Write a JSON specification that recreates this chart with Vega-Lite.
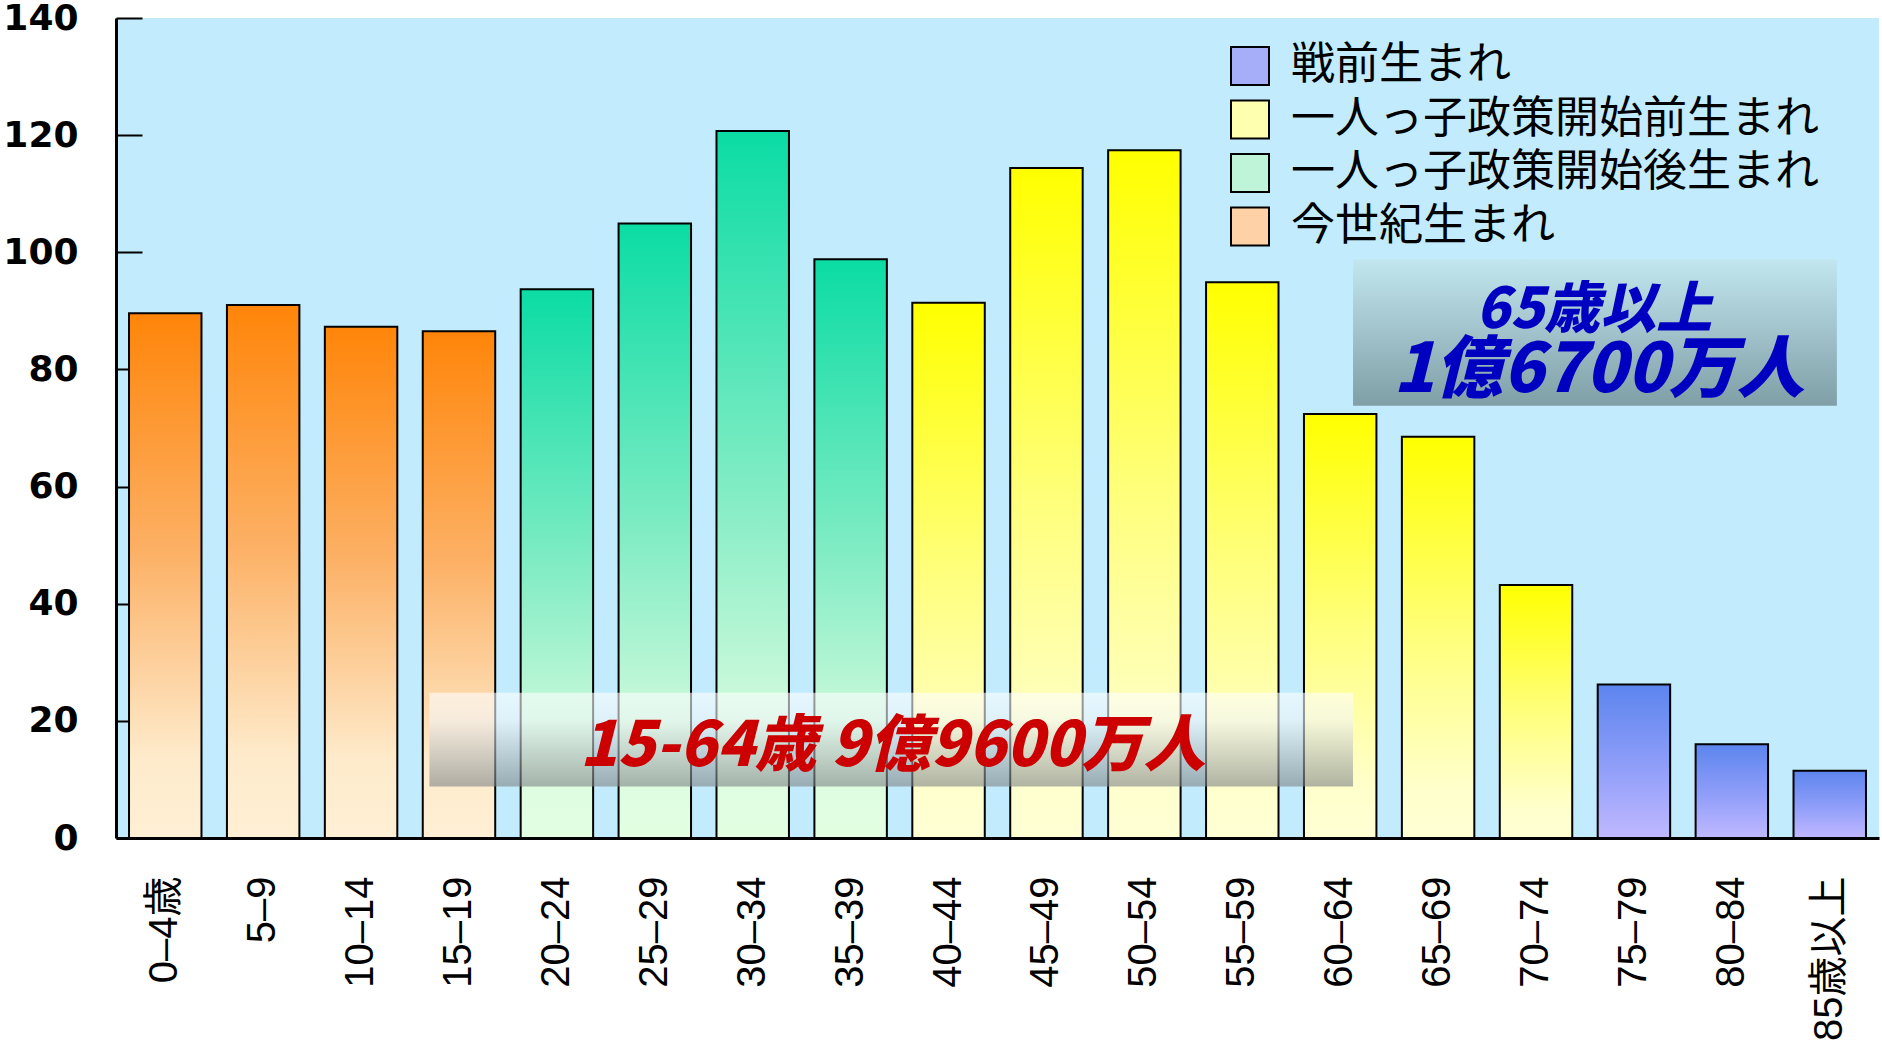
{
  "$schema": "https://vega.github.io/schema/vega-lite/v6.json",
  "width": 1763,
  "height": 820,
  "autosize": {"type": "none"},
  "padding": {"left": 116, "top": 18, "right": 3, "bottom": 219},
  "background": "white",
  "config": {
    "view": {"fill": "#c2ecfd", "stroke": null},
    "axisY": {
      "domainColor": "black", "domainWidth": 3,
      "tickColor": "black", "tickWidth": 2, "tickSize": -26,
      "labelPadding": 64, "labelFont": "DejaVu Sans", "labelFontWeight": "bold",
      "labelFontSize": 36, "labelColor": "black", "grid": false, "tickCount": 7,
      "labelFlush": false, "labelOverlap": false, "labelBaseline": "middle"
    }
  },
  "data": {
    "values": [
      {"age": "0–4歳", "pop": 89.6, "group": "今世紀生まれ"},
      {"age": "5–9", "pop": 91.0, "group": "今世紀生まれ"},
      {"age": "10–14", "pop": 87.3, "group": "今世紀生まれ"},
      {"age": "15–19", "pop": 86.5, "group": "今世紀生まれ"},
      {"age": "20–24", "pop": 93.7, "group": "一人っ子政策開始後生まれ"},
      {"age": "25–29", "pop": 104.9, "group": "一人っ子政策開始後生まれ"},
      {"age": "30–34", "pop": 120.7, "group": "一人っ子政策開始後生まれ"},
      {"age": "35–39", "pop": 98.8, "group": "一人っ子政策開始後生まれ"},
      {"age": "40–44", "pop": 91.4, "group": "一人っ子政策開始前生まれ"},
      {"age": "45–49", "pop": 114.4, "group": "一人っ子政策開始前生まれ"},
      {"age": "50–54", "pop": 117.4, "group": "一人っ子政策開始前生まれ"},
      {"age": "55–59", "pop": 94.9, "group": "一人っ子政策開始前生まれ"},
      {"age": "60–64", "pop": 72.4, "group": "一人っ子政策開始前生まれ"},
      {"age": "65–69", "pop": 68.5, "group": "一人っ子政策開始前生まれ"},
      {"age": "70–74", "pop": 43.2, "group": "一人っ子政策開始前生まれ"},
      {"age": "75–79", "pop": 26.2, "group": "戦前生まれ"},
      {"age": "80–84", "pop": 16.0, "group": "戦前生まれ"},
      {"age": "85歳以上", "pop": 11.5, "group": "戦前生まれ"}
    ]
  },
  "resolve": {"scale": {"x": "independent"}},
  "layer": [
    {
      "encoding": {
        "x": {
          "field": "age", "type": "nominal", "title": null,
          "scale": {
            "domain": ["0–4歳","5–9","10–14","15–19","20–24","25–29","30–34","35–39","40–44","45–49","50–54","55–59","60–64","65–69","70–74","75–79","80–84","85歳以上"],
            "paddingInner": 0.26, "paddingOuter": 0.133
          },
          "axis": {
            "labelAngle": -90, "ticks": false, "labelPadding": 38,
            "domainColor": "black", "domainWidth": 3,
            "labelFont": "Liberation Sans, Noto Sans CJK JP", "labelFontSize": 40,
            "labelColor": "black", "labelOverlap": false, "labelLimit": 400
          }
        },
        "y": {"field": "pop", "type": "quantitative", "title": null, "scale": {"domain": [0, 140], "nice": false}}
      },
      "layer": [
        {
          "transform": [{"filter": "datum.group === '今世紀生まれ'"}],
          "mark": {"type": "bar", "stroke": "black", "strokeWidth": 2,
            "fill": {"gradient": "linear", "x1": 0, "y1": 0, "x2": 0, "y2": 1,
              "stops": [{"offset": 0, "color": "#ff8509"}, {"offset": 0.45, "color": "#fcb064"}, {"offset": 0.85, "color": "#feebcc"}, {"offset": 1, "color": "#ffefd4"}]}}
        },
        {
          "transform": [{"filter": "datum.group === '一人っ子政策開始後生まれ'"}],
          "mark": {"type": "bar", "stroke": "black", "strokeWidth": 2,
            "fill": {"gradient": "linear", "x1": 0, "y1": 0, "x2": 0, "y2": 1,
              "stops": [{"offset": 0, "color": "#0bdca4"}, {"offset": 0.5, "color": "#80ecc4"}, {"offset": 0.88, "color": "#ddfce0"}, {"offset": 1, "color": "#e2ffe2"}]}}
        },
        {
          "transform": [{"filter": "datum.group === '一人っ子政策開始前生まれ'"}],
          "mark": {"type": "bar", "stroke": "black", "strokeWidth": 2,
            "fill": {"gradient": "linear", "x1": 0, "y1": 0, "x2": 0, "y2": 1,
              "stops": [{"offset": 0, "color": "#ffff00"}, {"offset": 0.5, "color": "#ffff7c"}, {"offset": 0.88, "color": "#ffffcc"}, {"offset": 1, "color": "#ffffd4"}]}}
        },
        {
          "transform": [{"filter": "datum.group === '戦前生まれ'"}],
          "mark": {"type": "bar", "stroke": "black", "strokeWidth": 2,
            "fill": {"gradient": "linear", "x1": 0, "y1": 0, "x2": 0, "y2": 1,
              "stops": [{"offset": 0, "color": "#5c85ee"}, {"offset": 0.5, "color": "#8c9cf8"}, {"offset": 1, "color": "#c0b8ff"}]}}
        },
        {
          "mark": {"type": "square", "opacity": 0, "filled": true, "stroke": "black", "strokeWidth": 2},
          "encoding": {
            "color": {
              "field": "group", "type": "nominal",
              "scale": {"domain": ["戦前生まれ", "一人っ子政策開始前生まれ", "一人っ子政策開始後生まれ", "今世紀生まれ"], "range": ["#a6aefa", "#ffffb0", "#bff4d8", "#fed2a6"]},
              "legend": {
                "title": null, "orient": "none", "legendX": 1112, "legendY": 26, "padding": 0,
                "symbolType": "square", "symbolSize": 1444, "symbolStrokeWidth": 2,
                "symbolOpacity": 1, "labelFont": "Noto Sans CJK JP", "labelFontSize": 44, "labelColor": "black",
                "labelOffset": 19, "rowPadding": 7.5, "labelLimit": 1000
              }
            }
          }
        }
      ]
    },
    {
      "data": {"values": [{}]},
      "mark": {"type": "rect", "fillOpacity": 0.6,
        "fill": {"gradient": "linear", "x1": 0, "y1": 0, "x2": 0, "y2": 1,
          "stops": [{"offset": 0, "color": "#ffffff"}, {"offset": 0.3, "color": "#f0f4f6"}, {"offset": 1, "color": "#7c8183"}]}},
      "encoding": {
        "x": {"datum": 3.2, "type": "quantitative", "scale": {"domain": [0, 18], "nice": false, "zero": false}, "axis": null},
        "x2": {"datum": 12.63},
        "y": {"datum": 8.8, "type": "quantitative", "title": null, "scale": {"domain": [0, 140], "nice": false}},
        "y2": {"datum": 24.8}
      }
    },
    {
      "data": {"values": [{}]},
      "mark": {"type": "text", "text": "15-64歳 9億9600万人", "font": "Noto Sans CJK JP", "fontWeight": 900, "fontStyle": "italic", "fontSize": 62, "fill": "#cc0000", "align": "center", "baseline": "middle"},
      "encoding": {
        "x": {"datum": 7.93, "type": "quantitative", "scale": {"domain": [0, 18], "nice": false, "zero": false}, "axis": null},
        "y": {"datum": 15.6, "type": "quantitative", "title": null, "scale": {"domain": [0, 140], "nice": false}}
      }
    },
    {
      "data": {"values": [{}]},
      "mark": {"type": "rect", "fillOpacity": 0.92,
        "fill": {"gradient": "linear", "x1": 0, "y1": 0, "x2": 0, "y2": 1,
          "stops": [{"offset": 0, "color": "#c2e6ee"}, {"offset": 1, "color": "#7a989f"}]}},
      "encoding": {
        "x": {"datum": 12.63, "type": "quantitative", "scale": {"domain": [0, 18], "nice": false, "zero": false}, "axis": null},
        "x2": {"datum": 17.57},
        "y": {"datum": 73.8, "type": "quantitative", "title": null, "scale": {"domain": [0, 140], "nice": false}},
        "y2": {"datum": 98.8}
      }
    },
    {
      "data": {"values": [{}]},
      "mark": {"type": "text", "text": "65歳以上", "font": "Noto Sans CJK JP", "fontWeight": 900, "fontStyle": "italic", "fontSize": 56, "fill": "#0000c0", "align": "center", "baseline": "middle"},
      "encoding": {
        "x": {"datum": 15.09, "type": "quantitative", "scale": {"domain": [0, 18], "nice": false, "zero": false}, "axis": null},
        "y": {"datum": 89.9, "type": "quantitative", "title": null, "scale": {"domain": [0, 140], "nice": false}}
      }
    },
    {
      "data": {"values": [{}]},
      "mark": {"type": "text", "text": "1億6700万人", "font": "Noto Sans CJK JP", "fontWeight": 900, "fontStyle": "italic", "fontSize": 68, "fill": "#0000c0", "align": "center", "baseline": "middle"},
      "encoding": {
        "x": {"datum": 15.14, "type": "quantitative", "scale": {"domain": [0, 18], "nice": false, "zero": false}, "axis": null},
        "y": {"datum": 79.6, "type": "quantitative", "title": null, "scale": {"domain": [0, 140], "nice": false}}
      }
    }
  ]
}
